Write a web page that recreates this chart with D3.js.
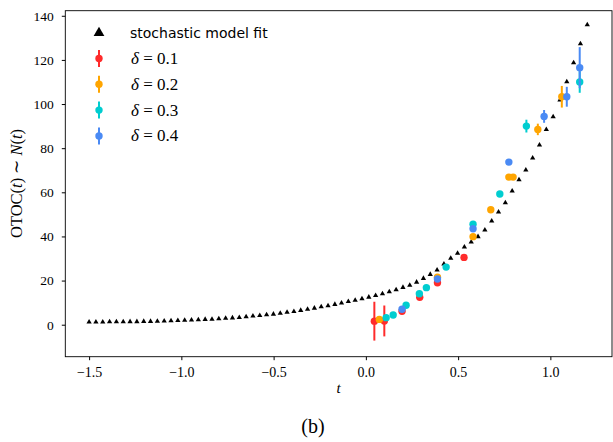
<!DOCTYPE html>
<html>
<head>
<meta charset="utf-8">
<script src="https://cdn.jsdelivr.net/npm/d3@7"></script>
<style>
body{margin:0;background:#fff;}
.tick text{font-family:"Liberation Serif",serif;font-size:14px;fill:#000;}
.tick line{stroke:#000;}
.serif{font-family:"Liberation Serif",serif;fill:#000;}
</style>
</head>
<body>
<div class="chart"></div>
<script>
// stochastic model fit (black triangles)
const modelT = [-1.500,-1.463,-1.426,-1.389,-1.352,-1.315,-1.278,-1.241,-1.204,-1.167,
  -1.130,-1.093,-1.056,-1.019,-0.982,-0.945,-0.908,-0.871,-0.834,-0.797,
  -0.760,-0.723,-0.686,-0.649,-0.612,-0.575,-0.538,-0.501,-0.464,-0.427,
  -0.390,-0.353,-0.316,-0.279,-0.242,-0.205,-0.168,-0.132,-0.095,-0.058,
  -0.021,0.016,0.053,0.090,0.127,0.164,0.201,0.238,0.275,0.312,
  0.349,0.386,0.423,0.460,0.497,0.534,0.571,0.608,0.645,0.682,
  0.719,0.756,0.793,0.830,0.867,0.904,0.941,0.978,1.015,1.052,
  1.089,1.126,1.163,1.200];
const modelN = [1.2,1.2,1.2,1.3,1.3,1.3,1.4,1.4,1.5,1.5,
  1.6,1.7,1.8,1.9,2.0,2.1,2.2,2.4,2.5,2.7,
  2.9,3.1,3.3,3.6,3.9,4.2,4.5,4.8,5.2,5.6,
  6.0,6.5,7.0,7.5,8.1,8.6,9.2,9.8,10.5,11.1,
  11.8,12.5,13.2,14.0,14.9,15.8,16.9,17.9,19.3,21.0,
  22.8,24.8,27.5,30.1,32.4,35.2,37.5,39.9,42.9,47.0,
  51.1,55.3,60.6,65.7,70.1,75.5,81.4,88.5,94.2,101.8,
  110.1,118.7,127.3,135.9];

// measured OTOC for each delta
const t01 = [0.046,0.100,0.196,0.292,0.388,0.532];
const n01 = [1.6,1.7,6.1,12.4,19.0,30.5];
const e01 = [8.8,7.0,0.5,0.5,0.5,0.5];

const t02 = [0.073,0.388,0.581,0.677,0.775,0.798,0.932,1.062];
const n02 = [2.4,21.5,39.9,52.1,66.9,66.9,88.5,103.3];
const e02 = [0.5,0.5,0.8,0.5,0.5,0.5,2.6,4.9];

const t03 = [0.110,0.148,0.218,0.290,0.328,0.435,0.581,0.726,0.870,1.159];
const n03 = [3.2,4.4,8.8,14.0,16.8,26.1,45.5,59.2,90.0,110.0];
const e03 = [0.5,0.5,0.5,0.5,0.5,0.5,0.5,0.8,2.9,4.9];

const t04 = [0.196,0.388,0.581,0.775,0.966,1.089,1.159];
const n04 = [7.0,20.7,43.5,73.7,94.4,103.3,116.5];
const e04 = [0.5,0.5,0.8,0.8,2.9,4.5,9.3];

const deltas = ['0.1','0.2','0.3','0.4'];
const colors = ['#ff2b2b','#ffa500','#00cdd0','#4a8af4'];
const xTicks = [-1.5,-1.0,-0.5,0.0,0.5,1.0];
const yTicks = [0,20,40,60,80,100,120,140];

const margin = {top:10.7, left:65.3, bottom:85.3, right:1};
const width = 613 - margin.left - margin.right;
const height = 442 - margin.top - margin.bottom;

const root = d3.select('.chart')
    .append('svg')
    .attr('width', 613)
    .attr('height', 442);
const svg = root.append('g')
    .attr('transform', 'translate('+margin.left+','+margin.top+')');

const xScale = d3.scaleLinear()
    .domain([-1.629, 1.334])
    .range([0, width]);
const yScale = d3.scaleLinear()
    .domain([-14.5, 142.3])
    .range([height, 0]);

const xAxis = d3.axisBottom(xScale)
    .tickValues(xTicks)
    .tickFormat(d3.format('.1f'))
    .tickSize(3.5)
    .tickPadding(6.5)
    .tickSizeOuter(0);
const yAxis = d3.axisLeft(yScale)
    .tickValues(yTicks)
    .tickFormat(d3.format('d'))
    .tickSize(3.5)
    .tickPadding(8)
    .tickSizeOuter(0);

svg.append('g')
    .attr('class', 'x-axis')
    .attr('transform', `translate(0, ${height})`)
    .call(xAxis)
    .select('.domain').remove();
svg.append('g')
    .attr('class', 'y-axis')
    .call(yAxis)
    .select('.domain').remove();
svg.select('.y-axis').selectAll('.tick text').style('font-size', '13.5px');

// model triangles
const tri = d3.symbol().type(d3.symbolTriangle).size(12);
svg.selectAll('.model')
    .data(modelT)
    .enter()
    .append('path')
    .attr('class', 'model')
    .attr('d', tri)
    .attr('fill', '#000')
    .attr('transform', (d,i) => `translate(${xScale(d)},${yScale(modelN[i])})`);

// error bar series
const series = [[t01,n01,e01],[t02,n02,e02],[t03,n03,e03],[t04,n04,e04]];
series.forEach(function(s, k){
    const pts = s[0].map((t,i) => ({t:t, n:s[1][i], e:s[2][i]}));
    const g = svg.append('g').attr('class', 'series'+k);
    g.selectAll('line')
        .data(pts)
        .enter()
        .append('line')
        .attr('x1', d => xScale(d.t))
        .attr('x2', d => xScale(d.t))
        .attr('y1', d => yScale(d.n - d.e))
        .attr('y2', d => yScale(d.n + d.e))
        .attr('stroke', colors[k])
        .attr('stroke-width', 2);
    g.selectAll('circle')
        .data(pts)
        .enter()
        .append('circle')
        .attr('cx', d => xScale(d.t))
        .attr('cy', d => yScale(d.n))
        .attr('r', 3.7)
        .attr('fill', colors[k]);
});

// frame
svg.append('rect')
    .attr('width', width)
    .attr('height', height)
    .attr('fill', 'none')
    .attr('stroke', '#000')
    .attr('stroke-width', 0.9);

// legend
const legend = root.append('g').attr('class', 'legend');
legend.append('path')
    .attr('d', d3.symbol().type(d3.symbolTriangle).size(50))
    .attr('fill', '#000')
    .attr('transform', 'translate(99,33)');
legend.append('text')
    .attr('x', 130)
    .attr('y', 38)
    .attr('font-family', '"DejaVu Sans", sans-serif')
    .attr('font-size', '14px')
    .text('stochastic model fit');

deltas.forEach(function(d, k){
    const y = 58.5 + k*25.8;
    legend.append('line')
        .attr('x1', 99).attr('x2', 99)
        .attr('y1', y-8.5).attr('y2', y+8.5)
        .attr('stroke', colors[k])
        .attr('stroke-width', 2);
    legend.append('circle')
        .attr('cx', 99).attr('cy', y)
        .attr('r', 3.7)
        .attr('fill', colors[k]);
    const txt = legend.append('text')
        .attr('class', 'serif')
        .attr('x', 131)
        .attr('y', y+5.5)
        .attr('font-size', '17px');
    txt.append('tspan').attr('font-style', 'italic').text('δ');
    txt.append('tspan').text(' = ' + d);
});

// axis titles
const yl = root.append('text')
    .attr('class', 'serif')
    .attr('transform', 'translate(21.5,183.5) rotate(-90)')
    .attr('text-anchor', 'middle')
    .attr('font-size', '16.5px');
yl.append('tspan').text('OTOC(');
yl.append('tspan').attr('font-style', 'italic').text('t');
yl.append('tspan').text(') ∼ ');
yl.append('tspan').attr('font-style', 'italic').text('N');
yl.append('tspan').text('(');
yl.append('tspan').attr('font-style', 'italic').text('t');
yl.append('tspan').text(')');

root.append('text')
    .attr('class', 'serif')
    .attr('x', margin.left + width/2)
    .attr('y', 393)
    .attr('text-anchor', 'middle')
    .attr('font-size', '15px')
    .attr('font-style', 'italic')
    .text('t');

root.append('text')
    .attr('class', 'serif')
    .attr('x', 313)
    .attr('y', 433)
    .attr('text-anchor', 'middle')
    .attr('font-size', '20px')
    .text('(b)');
</script>
</body>
</html>
